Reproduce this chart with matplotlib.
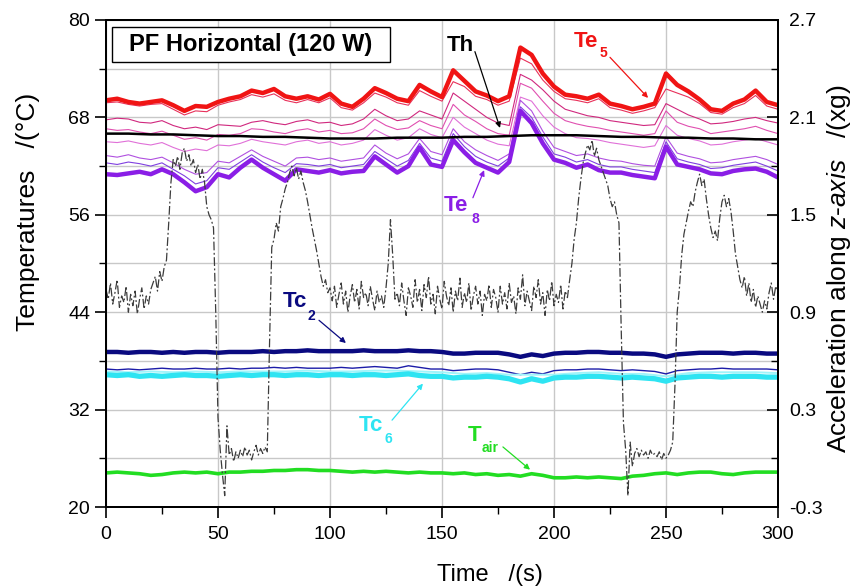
import matplotlib
matplotlib.use("Agg")
import matplotlib.pyplot as plt
from matplotlib.patches import Rectangle
import numpy as np

plt.rcParams['font.family'] = ['Liberation Sans', 'DejaVu Sans']
plt.rcParams['mathtext.fontset'] = 'custom'
plt.rcParams['mathtext.rm'] = 'Liberation Sans'
plt.rcParams['mathtext.it'] = 'Liberation Sans:italic'

# sampling grids (s)
t5 = np.arange(0, 301, 5)
t10 = np.arange(0, 301, 10)
t1 = np.arange(0, 301, 1)

# evaporator wall temperatures (degC), every 5 s
te5 = [70.1, 70.3, 69.9, 69.7, 69.9, 70.1, 69.5, 68.8, 69.4, 69.3,
       69.9, 70.3, 70.6, 71.3, 71.0, 71.5, 70.6, 70.3, 70.6, 70.2,
       70.9, 69.7, 69.3, 70.3, 71.6, 71.0, 70.3, 70.0, 72.0, 71.2,
       70.5, 73.8, 72.5, 71.2, 70.7, 70.0, 70.6, 76.6, 75.7, 73.4,
       71.8, 70.8, 70.6, 70.3, 70.8, 69.7, 69.4, 69.0, 69.3, 69.7,
       73.4, 72.0, 71.2, 70.2, 69.0, 68.8, 69.7, 70.2, 71.3, 69.9, 69.5]
te_a = [69.8, 69.9, 69.6, 69.4, 69.6, 69.7, 69.0, 68.3, 68.8, 68.7,
        69.5, 69.9, 70.2, 70.8, 70.5, 70.9, 70.1, 69.8, 70.2, 69.8,
        70.4, 69.2, 68.9, 69.8, 71.0, 70.5, 69.8, 69.5, 71.3, 70.6,
        70.0, 72.4, 71.8, 70.6, 70.2, 69.5, 70.0, 75.3, 74.6, 72.6,
        71.2, 70.3, 70.1, 69.8, 70.3, 69.2, 68.9, 68.5, 68.8, 69.2,
        71.5, 71.0, 70.5, 69.7, 68.6, 68.4, 69.2, 69.7, 70.7, 69.4, 69.0]
te_b = [67.7, 67.9, 67.8, 67.4, 67.3, 67.6, 67.0, 66.6, 66.8, 66.5,
        67.1, 67.0, 66.9, 67.4, 67.6, 67.3, 67.1, 67.5, 67.7, 67.3,
        67.4, 67.0, 67.2, 67.8, 69.0, 68.2, 67.6, 67.8, 68.8, 68.3,
        67.8, 71.0, 70.0, 69.0, 68.0, 67.3, 67.0, 73.3, 72.6, 71.4,
        70.0, 69.0, 68.6, 68.2, 68.0, 67.6, 67.4, 67.2, 67.0, 67.1,
        69.7, 69.0, 68.3, 67.8, 67.2, 67.3, 67.5, 67.8, 68.0, 67.6, 67.3]
te_c = [66.6, 66.4, 66.5, 66.2, 66.0, 66.3, 65.8, 65.3, 65.5, 65.2,
        65.9, 65.8, 66.0, 66.6, 66.5, 66.2, 66.0, 66.4, 66.6, 66.2,
        66.4, 66.0, 66.1, 66.6, 67.8, 67.0, 66.5, 66.7, 67.6, 67.0,
        66.6, 69.6, 68.3, 67.5, 66.6, 66.0, 65.8, 72.2, 71.6, 70.0,
        68.5, 67.6, 67.2, 66.9, 66.7, 66.4, 66.2, 66.0, 65.8, 66.0,
        68.8, 67.4, 66.9, 66.6, 66.0, 66.2, 66.4, 66.6, 66.9, 66.4, 66.0]
te_d = [65.0, 64.9, 65.1, 64.8, 64.6, 64.9, 64.3, 63.8, 64.1, 63.9,
        64.6, 64.5, 64.8, 65.3, 65.0, 64.8, 64.6, 65.0, 65.2, 64.8,
        65.0, 64.6, 64.8, 65.2, 66.5, 65.8, 65.2, 65.5, 66.6, 65.9,
        65.5, 68.0, 66.8, 66.0, 65.2, 64.7, 64.5, 70.5, 70.0, 68.2,
        66.8, 66.0, 65.5, 65.4, 65.2, 64.9, 64.7, 64.5, 64.3, 64.5,
        67.0, 65.8, 65.4, 65.1, 64.6, 64.7, 65.0, 65.2, 65.4, 65.0, 64.6]
te_e = [63.3, 63.1, 63.4, 63.0, 62.8, 63.1, 62.4, 61.6, 61.0, 61.2,
        62.6, 62.4, 63.2, 64.0, 63.2, 62.6, 62.0, 63.0, 63.1, 62.8,
        63.0, 62.6, 62.8, 63.0, 64.6, 63.6, 62.9, 63.5, 65.4, 63.8,
        63.4, 66.6, 65.0, 64.0, 63.3, 62.7, 63.5, 70.1, 68.8, 66.3,
        64.3, 63.8, 63.3, 63.5, 63.0, 62.7, 62.6, 62.3, 62.1, 62.0,
        65.6, 63.6, 63.2, 62.9, 62.4, 62.5, 62.8, 63.0, 63.2, 62.8, 62.2]
te_f = [62.4, 62.2, 62.5, 62.3, 62.0, 62.4, 61.6, 60.8, 59.8, 60.2,
        61.8, 61.6, 62.5, 63.4, 62.5, 61.8, 61.2, 62.3, 62.2, 62.0,
        62.2, 61.8, 62.0, 62.2, 63.8, 62.9, 62.0, 62.7, 64.8, 63.0,
        62.6, 66.0, 64.4, 63.2, 62.5, 62.0, 63.0, 69.3, 68.0, 65.6,
        63.5, 63.1, 62.5, 62.8, 62.2, 61.9, 61.9, 61.6, 61.4, 61.2,
        65.0, 62.9, 62.5, 62.2, 61.7, 61.8, 62.1, 62.3, 62.5, 62.0, 61.4]
te8 = [61.0, 60.9, 61.1, 61.3, 61.0, 61.6, 61.0, 60.0, 58.9, 59.4,
       61.0, 60.6, 61.8, 62.8, 61.8, 61.0, 60.2, 61.6, 61.4, 61.2,
       61.5, 61.1, 61.3, 61.4, 63.2, 62.2, 61.2, 62.0, 64.3, 62.2,
       61.9, 65.2, 63.7, 62.4, 61.8, 61.2, 62.5, 68.8, 67.3, 64.8,
       62.8, 62.4, 61.8, 62.2, 61.5, 61.2, 61.2, 60.9, 60.7, 60.5,
       64.4, 62.2, 61.9, 61.6, 61.1, 61.0, 61.4, 61.6, 61.7, 61.3, 60.6]

# heater temperature, every 10 s
th = [66.0, 66.0, 65.9, 65.9, 65.8, 65.7, 65.7, 65.6, 65.6, 65.5,
      65.4, 65.4, 65.4, 65.5, 65.5, 65.5, 65.6, 65.6, 65.7, 65.8,
      65.8, 65.8, 65.7, 65.6, 65.6, 65.5, 65.5, 65.4, 65.4, 65.3, 65.3]

# condenser temperatures, every 5 s (last one every 10 s)
tc2 = [39.1, 39.1, 39.0, 39.1, 39.1, 39.0, 39.1, 39.0, 39.1, 39.1,
       39.0, 39.1, 39.1, 39.1, 39.2, 39.1, 39.2, 39.2, 39.3, 39.2,
       39.2, 39.2, 39.2, 39.3, 39.2, 39.2, 39.2, 39.3, 39.2, 39.2,
       39.1, 38.9, 38.9, 39.0, 39.0, 39.0, 38.8, 38.5, 38.8, 38.6,
       38.9, 39.0, 39.0, 39.1, 39.1, 39.0, 39.0, 38.9, 38.9, 38.8,
       38.5, 38.8, 38.9, 39.0, 39.0, 39.0, 38.9, 39.0, 39.0, 38.9, 38.9]
tc_a = [37.0, 36.9, 37.0, 36.9, 37.0, 37.1, 37.0, 37.0, 37.1, 37.0,
        37.0, 37.1, 37.0, 37.1, 37.1, 37.2, 37.1, 37.2, 37.1, 37.1,
        37.1, 37.2, 37.1, 37.2, 37.3, 37.2, 37.1, 37.4, 37.2, 37.0,
        37.0, 36.8, 36.9, 37.0, 37.0, 36.9, 36.6, 36.3, 36.6, 36.4,
        36.8, 36.9, 36.9, 37.0, 37.0, 36.9, 36.8, 36.9, 36.8, 36.7,
        36.4, 36.8, 36.9, 37.0, 37.0, 37.1, 37.0, 37.0, 37.0, 37.0, 36.9]
tc6 = [36.3, 36.2, 36.3, 36.1, 36.2, 36.1, 36.2, 36.3, 36.2, 36.2,
       36.1, 36.2, 36.3, 36.2, 36.3, 36.3, 36.2, 36.3, 36.3, 36.2,
       36.3, 36.3, 36.2, 36.3, 36.3, 36.2, 36.3, 36.4, 36.2, 36.1,
       36.1, 35.9, 36.0, 36.0, 36.1, 36.0, 35.8, 35.4, 35.8, 35.5,
       35.9, 36.0, 36.0, 36.1, 36.1, 36.0, 35.9, 36.0, 35.9, 35.8,
       35.5, 35.9, 36.0, 36.1, 36.1, 36.0, 36.1, 36.1, 36.1, 36.0, 36.0]
tc_b = [36.7, 36.6, 36.7, 36.6, 36.7, 36.6, 36.7, 36.7, 36.7, 36.8,
        36.7, 36.7, 36.8, 36.8, 36.7, 36.6, 36.4, 36.5, 36.3, 36.3,
        36.3, 36.5, 36.6, 36.4, 36.4, 36.1, 36.5, 36.6, 36.6, 36.6, 36.5]

# ambient air, every 5 s
tair = [24.2, 24.3, 24.2, 24.1, 23.9, 24.0, 24.2, 24.3, 24.2, 24.3,
        24.1, 24.3, 24.3, 24.4, 24.4, 24.5, 24.5, 24.6, 24.6, 24.5,
        24.5, 24.4, 24.3, 24.4, 24.3, 24.4, 24.3, 24.2, 24.3, 24.2,
        24.2, 24.1, 24.2, 24.0, 24.1, 23.9, 24.0, 23.8, 24.1, 23.9,
        23.6, 23.6, 23.7, 23.6, 23.7, 23.6, 23.5, 23.8, 23.9, 24.1,
        24.2, 24.0, 24.2, 24.3, 24.3, 24.1, 24.0, 24.2, 24.3, 24.3, 24.3]

# z-axis acceleration (xg), every 1 s
acc = [1.04, 0.98, 1.08, 0.95, 1.02, 1.10, 0.93, 1.00, 0.96, 1.06,
       0.90, 1.01, 0.94, 1.03, 0.89, 0.98, 1.05, 0.92, 1.00, 0.95,
       1.04, 1.08, 1.12, 1.03, 1.15, 1.09, 1.18, 1.22, 1.45, 1.70,
       1.84, 1.80, 1.86, 1.78, 1.88, 1.91, 1.83, 1.87, 1.80, 1.84,
       1.76, 1.81, 1.72, 1.78, 1.70, 1.55, 1.50, 1.47, 1.42, 0.90,
       0.25, 0.05, -0.10, -0.23, 0.20, 0.02, 0.06, -0.02, 0.04, 0.00,
       0.05, 0.01, 0.07, 0.02, 0.05, -0.01, 0.04, 0.08, 0.02, 0.06,
       0.03, 0.07, 0.04, 0.70, 1.30, 1.35, 1.45, 1.40, 1.55, 1.60,
       1.66, 1.70, 1.76, 1.80, 1.74, 1.79, 1.72, 1.77, 1.70, 1.65,
       1.58, 1.50, 1.42, 1.35, 1.28, 1.20, 1.12, 1.06, 1.10, 1.02,
       1.05, 0.97, 1.06, 0.93, 1.01, 1.08, 0.95, 1.03, 0.90, 1.00,
       1.07, 0.96, 1.04, 0.92, 1.09, 0.99, 1.02, 0.94, 1.06, 0.98,
       0.91, 1.03, 0.96, 1.00, 0.93, 1.05, 1.20, 1.47, 1.25, 0.98,
       1.02, 0.94, 1.08, 0.97, 0.88, 1.05, 1.00, 0.93, 1.10, 0.96,
       1.04, 0.91, 1.07, 0.99, 1.12, 0.95, 1.01, 0.89, 1.06, 0.98,
       0.92, 1.09, 1.00, 0.94, 1.05, 0.90, 1.03, 0.97, 1.11, 0.93,
       1.02, 0.96, 1.08, 0.91, 1.00, 1.06, 0.95, 1.03, 0.88, 1.01,
       0.97, 1.07, 0.93, 1.04, 0.99, 0.90, 1.06, 0.95, 1.02, 0.92,
       1.08, 0.96, 1.00, 0.89, 1.05, 0.98, 1.13, 0.94, 1.03, 0.97,
       0.91, 1.06, 0.99, 1.10, 0.95, 1.02, 0.88, 1.04, 0.97, 1.09,
       0.94, 1.01, 0.96, 1.07, 0.92, 1.03, 0.99, 1.10, 1.20, 1.35,
       1.45, 1.60, 1.72, 1.82, 1.88, 1.93, 1.90, 1.96, 1.86, 1.91,
       1.84, 1.80, 1.76, 1.72, 1.68, 1.60, 1.55, 1.58, 1.50, 1.45,
       0.80, 0.22, 0.05, -0.23, 0.10, -0.05, 0.03, 0.06, 0.01, 0.05,
       0.02, 0.04, 0.00, 0.05, 0.02, 0.03, 0.01, 0.04, -0.01, 0.03,
       0.00, 0.02, 0.05, 0.10, 0.45, 0.90, 1.05, 1.25, 1.38, 1.45,
       1.52, 1.58, 1.55, 1.64, 1.70, 1.75, 1.68, 1.72, 1.60, 1.50,
       1.42, 1.36, 1.40, 1.34, 1.48, 1.58, 1.62, 1.55, 1.60, 1.52,
       1.40, 1.26, 1.18, 1.10, 1.05, 1.12, 1.00, 1.08, 0.96, 1.04,
       0.93, 1.00, 0.95, 0.90, 0.97, 0.92, 1.02, 1.08, 0.98, 1.06,
       1.03]

fig = plt.figure(figsize=(8.61, 5.86), dpi=100)
ax = fig.add_axes([0.1231, 0.1348, 0.7805, 0.8311])
ax2 = ax.twinx()

# temperatures
ax.plot(t5, te_a, color='#e8305a', lw=0.8)
ax.plot(t5, te_b, color='#d0287e', lw=0.8)
ax.plot(t5, te_c, color='#e050b0', lw=0.8)
ax.plot(t5, te_d, color='#e070d8', lw=0.8)
ax.plot(t5, te_e, color='#b050e0', lw=0.8)
ax.plot(t5, te_f, color='#8040e0', lw=0.8)
ax.plot(t5, te5, color='#f01414', lw=3.2)
ax.plot(t5, te8, color='#8a1ee6', lw=3.2)
ax.plot(t10, th, color='black', lw=1.8)
ax.plot(t5, tc2, color='#0a0a80', lw=3.2)
ax.plot(t5, tc_a, color='#1c1ca8', lw=1.0)
ax.plot(t10, tc_b, color='#9ff4fa', lw=1.4)
ax.plot(t5, tc6, color='#2ee4f2', lw=3.8)
ax.plot(t5, tair, color='#22dd22', lw=2.6)

# acceleration on the right axis
ax2.plot(t1, acc, color='#3c3c3c', lw=0.9, ls=(0, (7, 2, 1.5, 2)))

ax.set_xlim(0, 300)
ax.set_ylim(20, 80)
ax2.set_ylim(-0.3, 2.7)

ax.set_xticks(np.arange(0, 301, 50))
ax.set_xticks(np.arange(25, 300, 50), minor=True)
ax.set_yticks(np.arange(20, 81, 12))
ax.set_yticks(np.arange(26, 80, 12), minor=True)
ax2.set_yticks(np.round(np.arange(-0.3, 2.71, 0.6), 1))
ax2.set_yticks(np.round(np.arange(0.0, 2.7, 0.6), 1), minor=True)
ax2.set_yticklabels([f'{v:.1f}' for v in np.arange(-0.3, 2.71, 0.6)])

ax.grid(True, which='both', axis='y', color='#c8c8c8', lw=1.0)
ax.grid(True, which='major', axis='x', color='#c8c8c8', lw=1.0)
ax.set_axisbelow(True)

ax.tick_params(axis='both', which='major', direction='out', length=8, width=1.2,
               labelsize=14, top=False, right=False)
ax.tick_params(axis='both', which='minor', direction='out', length=5, width=1.0,
               top=False, right=False)
ax.tick_params(axis='x', pad=6)
ax2.tick_params(axis='y', which='major', direction='in', length=8, width=1.2,
                labelsize=14, pad=8)
ax2.tick_params(axis='y', which='minor', direction='in', length=5, width=1.0)

for a in (ax, ax2):
    for sp in a.spines.values():
        sp.set_linewidth(1.4)

ax.set_xlabel('Time   /(s)', fontsize=17)
ax.xaxis.set_label_coords(0.571, -0.118)
ax.set_ylabel('Temperatures   /(°C)', fontsize=19)
ax.yaxis.set_label_coords(-0.098, 0.606)
ax2.set_ylabel(r'Acceleration along $\mathit{z}$-$\mathit{axis}$   /(xg)',
               fontsize=19)
ax2.yaxis.set_label_coords(1.07, 0.49)

# title box
ax2.add_patch(Rectangle((2.7, 74.83), 124.1, 4.31, transform=ax.transData,
                        fc='white', ec='black', lw=1.0, zorder=5))
ax2.text(64.7, 77.0, 'PF Horizontal (120 W)', transform=ax.transData,
         ha='center', va='center', fontsize=17, fontweight='bold', zorder=6)


def tag(main, sub, xy_main, xy_sub, start, end, color):
    ax2.text(*xy_main, main, transform=ax.transData, ha='center', va='center',
             fontsize=16, fontweight='bold', color=color)
    if sub:
        ax2.text(*xy_sub, sub, transform=ax.transData, ha='center', va='center',
                 fontsize=10, fontweight='bold', color=color)
    ax2.annotate('', xy=end, xytext=start, xycoords=ax.transData,
                 textcoords=ax.transData,
                 arrowprops=dict(arrowstyle='-|>', color=color, lw=0.9,
                                 mutation_scale=8, shrinkA=0, shrinkB=0))


tag('Th', None, (158.0, 76.9), None, (164.7, 76.1), (175.9, 66.7), 'black')
tag('Te', '5', (214.3, 77.4), (222.0, 75.9), (225.0, 75.4), (242.0, 70.4), '#f01414')
tag('Te', '8', (156.2, 57.2), (164.7, 55.5), (163.8, 58.1), (168.8, 61.5), '#8a1ee6')
tag('Tc', '2', (84.4, 45.3), (91.5, 43.5), (95.1, 43.0), (107.1, 40.2), '#0a0a80')
tag('Tc', '6', (118.3, 30.1), (126.1, 28.4), (127.7, 30.7), (141.5, 35.2), '#2ee4f2')
tag('T', 'air', (164.7, 28.75), (171.6, 27.3), (177.2, 27.4), (189.3, 24.6), '#22dd22')

fig.savefig('out.png', dpi=100)
